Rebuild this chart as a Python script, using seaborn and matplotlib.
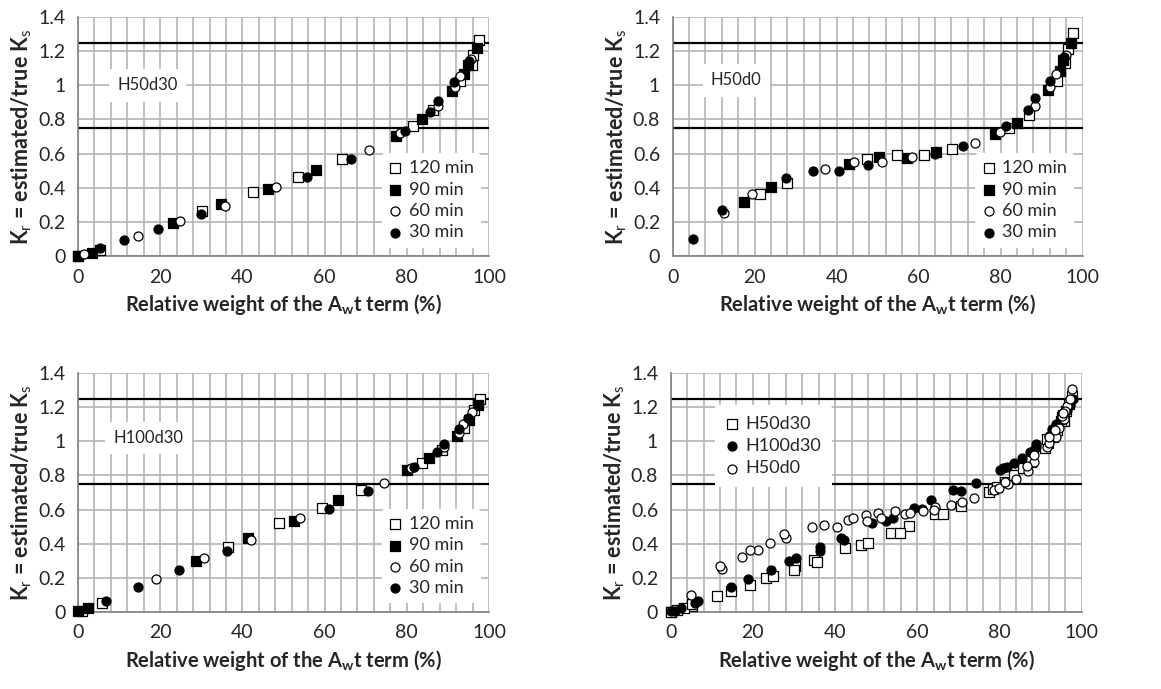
import numpy as np
import matplotlib
matplotlib.use('Agg')
import matplotlib.pyplot as plt
from matplotlib.ticker import FuncFormatter
import seaborn as sns

# ---- data: x = relative weight (%), y = Kr ----
# H50d30
h50d30_120_x = [0, 5.3, 30.2, 42.5, 53.6, 64.3, 81.4, 86.4, 93.0, 95.8, 96.2, 97.6]
h50d30_120_y = [0.0, 0.033, 0.266, 0.373, 0.461, 0.571, 0.759, 0.856, 1.023, 1.12, 1.18, 1.267]
h50d30_90_x = [0, 3.3, 23.1, 34.9, 46.3, 58.0, 77.4, 83.6, 91.1, 94.0, 95.0, 97.0]
h50d30_90_y = [0.0, 0.02, 0.196, 0.305, 0.391, 0.505, 0.704, 0.802, 0.964, 1.068, 1.12, 1.218]
h50d30_60_x = [1.5, 14.6, 24.8, 35.7, 48.1, 70.7, 78.3, 87.7, 91.7, 93.0, 95.5]
h50d30_60_y = [0.01, 0.12, 0.207, 0.293, 0.403, 0.622, 0.723, 0.88, 0.99, 1.052, 1.154]
h50d30_30_x = [5.3, 11.2, 19.4, 30.0, 55.8, 66.3, 79.5, 85.6, 87.7, 91.6, 95.1]
h50d30_30_y = [0.046, 0.094, 0.156, 0.244, 0.46, 0.571, 0.735, 0.843, 0.909, 1.017, 1.144]

# H50d0
h50d0_120_x = [21.3, 28.0, 47.5, 54.6, 61.4, 68.2, 82.1, 87.0, 93.7, 95.7, 96.5, 97.7]
h50d0_120_y = [0.364, 0.43, 0.567, 0.592, 0.592, 0.628, 0.749, 0.827, 1.028, 1.13, 1.21, 1.306]
h50d0_90_x = [17.4, 24.1, 43.1, 50.4, 57.1, 64.2, 78.6, 84.1, 91.6, 94.5, 95.1, 97.1]
h50d0_90_y = [0.319, 0.403, 0.54, 0.579, 0.573, 0.612, 0.714, 0.778, 0.97, 1.081, 1.15, 1.25]
h50d0_60_x = [12.6, 19.4, 37.2, 44.3, 51.1, 58.3, 73.7, 79.8, 88.4, 92.0, 93.5, 95.9]
h50d0_60_y = [0.25, 0.364, 0.508, 0.548, 0.548, 0.579, 0.665, 0.727, 0.88, 0.99, 1.068, 1.18]
h50d0_30_x = [5.0, 12.0, 27.6, 34.3, 40.5, 47.7, 64.0, 70.9, 81.3, 86.6, 88.5, 92.0, 95.4]
h50d0_30_y = [0.10, 0.27, 0.456, 0.50, 0.50, 0.532, 0.598, 0.647, 0.763, 0.856, 0.923, 1.028, 1.165]

# H100d30
h100d30_120_x = [1.05, 5.9, 36.4, 48.9, 59.3, 68.8, 83.6, 88.5, 94.0, 96.4, 97.8]
h100d30_120_y = [0.004, 0.049, 0.382, 0.519, 0.611, 0.715, 0.875, 0.95, 1.077, 1.185, 1.247]
h100d30_90_x = [0, 2.4, 28.8, 41.4, 52.5, 63.3, 80.1, 85.5, 92.1, 95.2, 97.2]
h100d30_90_y = [0.004, 0.02, 0.298, 0.431, 0.535, 0.656, 0.832, 0.905, 1.032, 1.126, 1.215]
h100d30_60_x = [18.9, 30.6, 42.2, 54.0, 74.4, 80.9, 89.0, 92.7, 93.7, 95.9]
h100d30_60_y = [0.19, 0.313, 0.421, 0.548, 0.758, 0.842, 0.97, 1.05, 1.10, 1.175]
h100d30_30_x = [6.7, 14.6, 24.5, 36.3, 61.1, 70.6, 81.8, 87.3, 89.0, 92.7, 95.0]
h100d30_30_y = [0.065, 0.147, 0.245, 0.358, 0.601, 0.711, 0.852, 0.94, 0.985, 1.071, 1.14]

time_labels = ['120 min', '90 min', '60 min', '30 min']
case_labels = ['H50d30', 'H100d30', 'H50d0']

sns.set_style('white')
plt.rcParams['font.family'] = ['Lato', 'DejaVu Sans']
plt.rcParams['mathtext.fontset'] = 'custom'
plt.rcParams['mathtext.rm'] = 'Lato'
plt.rcParams['mathtext.bf'] = 'Lato:bold'

GRID = '#b4b4b4'
AXC = '#808080'
TXT = '#262626'
MS = 42

# marker style per series: (marker, facecolor)
styles = [('s', 'white'), ('s', 'black'), ('o', 'white'), ('o', 'black')]
case_styles = [('s', 'white'), ('o', 'black'), ('o', 'white')]

fig = plt.figure(figsize=(11.61, 6.89), dpi=100)
ax1 = fig.add_axes([0.0672, 0.6284, 0.354, 0.3469])
ax2 = fig.add_axes([0.5794, 0.6284, 0.3531, 0.3469])
ax3 = fig.add_axes([0.0672, 0.1122, 0.354, 0.346])
ax4 = fig.add_axes([0.5777, 0.1122, 0.354, 0.346])


def setup(ax):
    ax.set_xlim(0, 100)
    ax.set_ylim(0, 1.4)
    ax.set_xticks(np.arange(0, 101, 20))
    ax.set_xticks(np.arange(0, 101, 4), minor=True)
    ax.set_yticks(np.arange(0, 1.41, 0.2))
    ax.yaxis.set_major_formatter(FuncFormatter(lambda v, p: '%g' % round(v, 1)))
    ax.grid(which='both', axis='x', color=GRID, linewidth=1.2, zorder=0)
    ax.grid(which='major', axis='y', color=GRID, linewidth=1.2, zorder=0)
    ax.set_axisbelow(True)
    for s in ['top', 'right']:
        ax.spines[s].set_visible(False)
    for s in ['left', 'bottom']:
        ax.spines[s].set_color(AXC)
        ax.spines[s].set_linewidth(1.2)
        ax.spines[s].set_zorder(1)
    ax.tick_params(which='major', direction='out', length=5, width=1.1,
                   color=AXC, labelsize=14, labelcolor=TXT, pad=4)
    ax.tick_params(which='minor', length=0)
    ax.axhline(1.25, color='black', linewidth=1.6, zorder=1)
    ax.axhline(0.75, color='black', linewidth=1.6, zorder=1)
    ax.set_xlabel(r'Relative weight of the A$_\mathbf{w}$t term (%)',
                  fontsize=14.5, fontweight='bold', color=TXT, labelpad=5)
    ax.set_ylabel(r'K$_\mathrm{r}$ = estimated/true K$_\mathrm{s}$',
                  fontsize=15.5, fontweight='bold', color=TXT, labelpad=3)


def scatter(ax, x, y, style, label):
    m, fc = style
    sns.scatterplot(x=x, y=y, marker=m, color=fc, edgecolor='black',
                    linewidth=0.9, s=MS, ax=ax, label=label, clip_on=False, zorder=3)


def panel_label(ax, text, x, y):
    ax.text(x, y, text, fontsize=12, color=TXT, ha='center', va='center', zorder=2,
            bbox=dict(boxstyle='square,pad=0.5', facecolor='white', edgecolor='none'))


def style_legend(leg):
    leg.get_frame().set_facecolor('white')
    leg.get_frame().set_edgecolor('none')
    leg.get_frame().set_alpha(1)
    for t in leg.get_texts():
        t.set_color(TXT)


panels = [
    (ax1, 'H50d30', [(h50d30_120_x, h50d30_120_y), (h50d30_90_x, h50d30_90_y),
                     (h50d30_60_x, h50d30_60_y), (h50d30_30_x, h50d30_30_y)], 17, 1.0),
    (ax2, 'H50d0', [(h50d0_120_x, h50d0_120_y), (h50d0_90_x, h50d0_90_y),
                    (h50d0_60_x, h50d0_60_y), (h50d0_30_x, h50d0_30_y)], 15.5, 1.03),
    (ax3, 'H100d30', [(h100d30_120_x, h100d30_120_y), (h100d30_90_x, h100d30_90_y),
                      (h100d30_60_x, h100d30_60_y), (h100d30_30_x, h100d30_30_y)], 17.2, 1.02),
]

for ax, name, series, lx, ly in panels:
    setup(ax)
    for (x, y), st, lab in zip(series, styles, time_labels):
        scatter(ax, x, y, st, lab)
    panel_label(ax, name, lx, ly)
    leg = ax.legend(loc='lower right', bbox_to_anchor=(0.98, 0.035), frameon=True,
                    fontsize=13, handlelength=0.7, handletextpad=0.4, labelspacing=0.3,
                    borderpad=0.4, borderaxespad=0)
    style_legend(leg)

# combined panel
setup(ax4)
combined = [
    (h50d30_120_x + h50d30_90_x + h50d30_60_x + h50d30_30_x,
     h50d30_120_y + h50d30_90_y + h50d30_60_y + h50d30_30_y),
    (h100d30_120_x + h100d30_90_x + h100d30_60_x + h100d30_30_x,
     h100d30_120_y + h100d30_90_y + h100d30_60_y + h100d30_30_y),
    (h50d0_120_x + h50d0_90_x + h50d0_60_x + h50d0_30_x,
     h50d0_120_y + h50d0_90_y + h50d0_60_y + h50d0_30_y),
]
for (x, y), st, lab in zip(combined, case_styles, case_labels):
    scatter(ax4, x, y, st, lab)
leg = ax4.legend(loc='upper left', bbox_to_anchor=(0.108, 0.867), frameon=True,
                 fontsize=13, handlelength=0.7, handletextpad=0.4, labelspacing=0.35,
                 borderpad=0.6, borderaxespad=0)
style_legend(leg)

fig.savefig('out.png', dpi=100)
